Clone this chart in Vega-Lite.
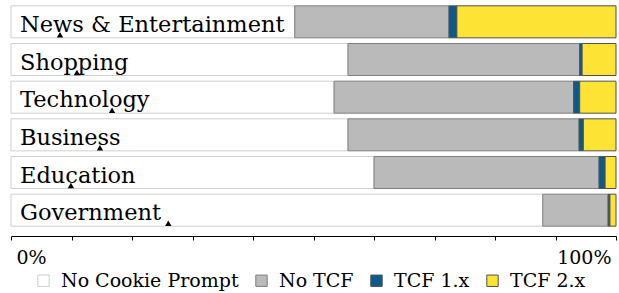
{
  "$schema": "https://vega.github.io/schema/vega-lite/v6.json",
  "width": 605,
  "height": 226,
  "autosize": {"type": "none"},
  "padding": {"left": 11, "top": 3, "right": 3, "bottom": 64},
  "background": "white",
  "config": {"view": {"stroke": null}, "font": "DejaVu Serif"},
  "datasets": {
    "shares": [
      {"category": "News & Entertainment", "type": "No Cookie Prompt", "share": 46.9},
      {"category": "News & Entertainment", "type": "No TCF", "share": 25.5},
      {"category": "News & Entertainment", "type": "TCF 1.x", "share": 1.3},
      {"category": "News & Entertainment", "type": "TCF 2.x", "share": 26.3},
      {"category": "Shopping", "type": "No Cookie Prompt", "share": 55.7},
      {"category": "Shopping", "type": "No TCF", "share": 38.3},
      {"category": "Shopping", "type": "TCF 1.x", "share": 0.4},
      {"category": "Shopping", "type": "TCF 2.x", "share": 5.6},
      {"category": "Technology", "type": "No Cookie Prompt", "share": 53.4},
      {"category": "Technology", "type": "No TCF", "share": 39.6},
      {"category": "Technology", "type": "TCF 1.x", "share": 1.0},
      {"category": "Technology", "type": "TCF 2.x", "share": 6.0},
      {"category": "Business", "type": "No Cookie Prompt", "share": 55.7},
      {"category": "Business", "type": "No TCF", "share": 38.2},
      {"category": "Business", "type": "TCF 1.x", "share": 0.7},
      {"category": "Business", "type": "TCF 2.x", "share": 5.4},
      {"category": "Education", "type": "No Cookie Prompt", "share": 60.0},
      {"category": "Education", "type": "No TCF", "share": 37.2},
      {"category": "Education", "type": "TCF 1.x", "share": 1.0},
      {"category": "Education", "type": "TCF 2.x", "share": 1.8},
      {"category": "Government", "type": "No Cookie Prompt", "share": 87.9},
      {"category": "Government", "type": "No TCF", "share": 10.8},
      {"category": "Government", "type": "TCF 1.x", "share": 0.3},
      {"category": "Government", "type": "TCF 2.x", "share": 1.0}
    ],
    "cats": [
      {"category": "News & Entertainment", "marker": 8.1},
      {"category": "Shopping", "marker": 10.9},
      {"category": "Technology", "marker": 16.7},
      {"category": "Business", "marker": 14.7},
      {"category": "Education", "marker": 9.9},
      {"category": "Government", "marker": 26.0}
    ]
  },
  "layer": [
    {
      "data": {"name": "shares"},
      "transform": [
        {"calculate": "indexof(['No Cookie Prompt','No TCF','TCF 1.x','TCF 2.x'], datum.type)", "as": "ord"}
      ],
      "mark": {"type": "bar", "strokeWidth": 1},
      "encoding": {
        "y": {
          "field": "category", "type": "nominal",
          "sort": ["News & Entertainment", "Shopping", "Technology", "Business", "Education", "Government"],
          "scale": {"paddingInner": 0.15, "paddingOuter": 0.075},
          "axis": null
        },
        "x": {
          "field": "share", "type": "quantitative", "stack": "zero",
          "scale": {"domain": [0, 100], "nice": false},
          "axis": {
            "values": [0, 10, 20, 30, 40, 50, 60, 70, 80, 90, 100],
            "labelExpr": "datum.value == 0 ? '0%' : datum.value == 100 ? '100%' : ''",
            "title": null,
            "offset": 7,
            "tickSize": 4,
            "domainColor": "black",
            "tickColor": "black",
            "grid": false,
            "labelFontSize": 19,
            "labelColor": "black",
            "labelFlush": true,
            "labelFlushOffset": -5,
            "labelPadding": 8
          }
        },
        "color": {
          "field": "type", "type": "nominal",
          "scale": {"domain": ["No Cookie Prompt", "No TCF", "TCF 1.x", "TCF 2.x"], "range": ["#ffffff", "#bababa", "#0b5a8c", "#fde334"]},
          "legend": {
            "title": null,
            "orient": "none",
            "legendX": 23,
            "legendY": 268,
            "direction": "horizontal",
            "symbolType": "square",
            "symbolSize": 130,
            "symbolStrokeColor": "#777777",
            "symbolStrokeWidth": 1,
            "labelFontSize": 19,
            "labelLimit": 400,
            "labelColor": "black",
            "columnPadding": 13,
            "labelOffset": 8
          }
        },
        "stroke": {
          "field": "type", "type": "nominal",
          "scale": {"domain": ["No Cookie Prompt", "No TCF", "TCF 1.x", "TCF 2.x"], "range": ["#cfcfcf", "#7f7f7f", "#505050", "#505050"]},
          "legend": null
        },
        "order": {"field": "ord", "type": "quantitative"}
      }
    },
    {
      "data": {"name": "cats"},
      "mark": {"type": "text", "align": "left", "baseline": "alphabetic", "dx": 9, "dy": 10, "fontSize": 22.5, "color": "black"},
      "encoding": {
        "y": {"field": "category", "type": "nominal", "sort": ["News & Entertainment", "Shopping", "Technology", "Business", "Education", "Government"]},
        "x": {"datum": 0},
        "text": {"field": "category"}
      }
    },
    {
      "data": {"name": "cats"},
      "mark": {"type": "point", "shape": "triangle-up", "filled": true, "color": "black", "opacity": 1, "size": 40, "yOffset": 13},
      "encoding": {
        "y": {"field": "category", "type": "nominal", "sort": ["News & Entertainment", "Shopping", "Technology", "Business", "Education", "Government"]},
        "x": {"field": "marker", "type": "quantitative"}
      }
    }
  ]
}
